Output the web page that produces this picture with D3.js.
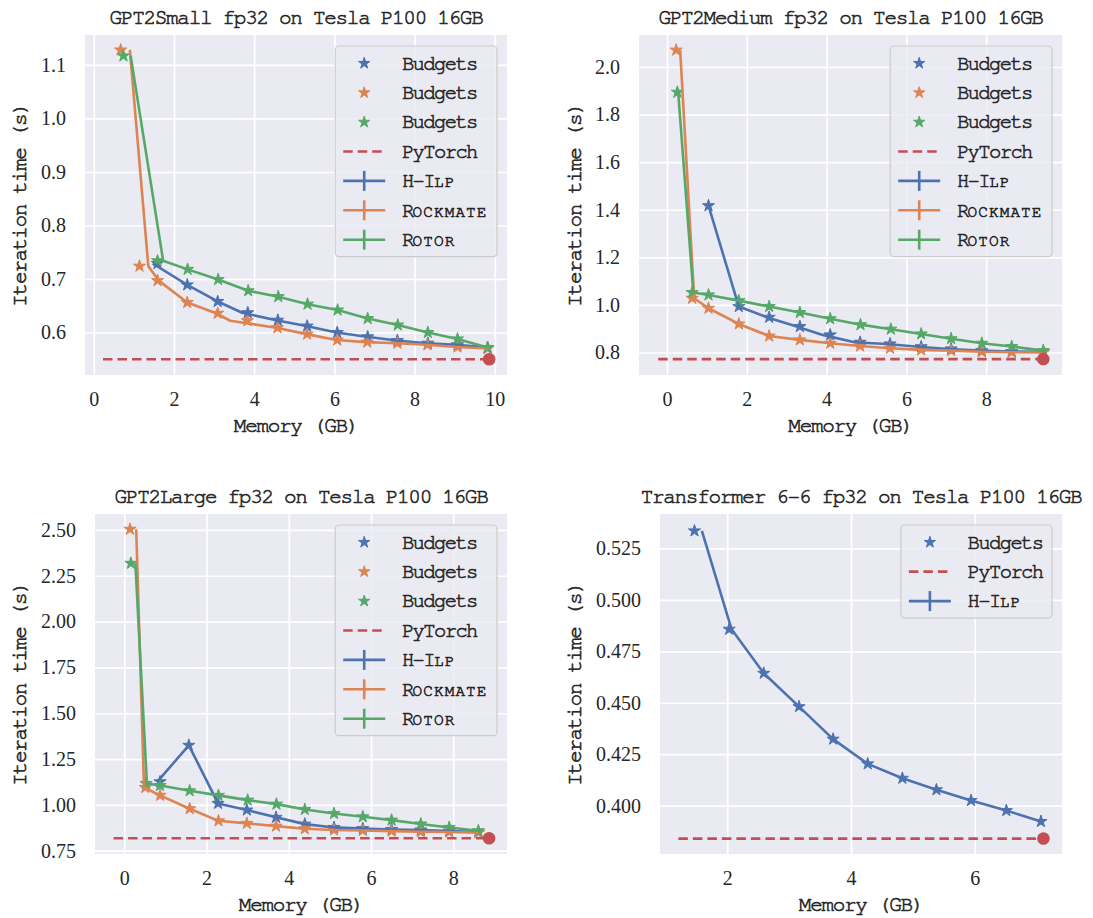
<!DOCTYPE html>
<html>
<head>
<meta charset="utf-8">
<script src="https://cdn.jsdelivr.net/npm/d3@7"></script>
<style>
  body { margin: 0; background: #ffffff; }
  svg { display: block; }
</style>
</head>
<body>
<svg id="fig" width="1093" height="918"></svg>
<script>
// ---------- GPT2Small ----------
const smallHilpBudget   = [1.59, 2.33, 3.09, 3.84, 4.59, 5.32, 6.07, 6.83, 7.57, 8.33, 9.07, 9.82];
const smallHilpMemory   = [1.47, 2.33, 3.09, 3.70, 4.55, 5.30, 6.05, 6.80, 7.55, 8.30, 9.05, 9.82];
const smallHilpTime     = [0.729, 0.689, 0.658, 0.637, 0.623, 0.612, 0.600, 0.592, 0.585, 0.580, 0.577, 0.572];
const smallRockBudget   = [0.67, 1.14, 1.59, 2.33, 3.09, 3.83, 4.58, 5.32, 6.07, 6.82, 7.57, 8.32, 9.07, 9.82];
const smallRockMemory   = [0.90, 1.36, 1.62, 2.33, 3.05, 3.40, 4.55, 5.30, 6.05, 6.80, 7.55, 8.30, 9.05, 9.84];
const smallRockTime     = [1.128, 0.724, 0.697, 0.656, 0.636, 0.622, 0.609, 0.597, 0.586, 0.582, 0.580, 0.577, 0.573, 0.570];
const smallRotorBudget  = [0.74, 1.59, 2.34, 3.10, 3.85, 4.60, 5.33, 6.08, 6.83, 7.58, 8.33, 9.07, 9.82];
const smallRotorMemory  = [0.92, 1.73, 2.34, 3.10, 3.85, 4.60, 5.33, 6.08, 6.83, 7.58, 8.33, 9.07, 9.82];
const smallRotorTime    = [1.117, 0.734, 0.718, 0.699, 0.678, 0.667, 0.653, 0.642, 0.626, 0.614, 0.600, 0.588, 0.572];
const smallTorchSpan    = [0.23, 9.86];
const smallTorchTime    = 0.550;

// ---------- GPT2Medium ----------
const mediumHilpBudget  = [1.04, 1.80, 2.56, 3.33, 4.09, 4.84, 5.59, 6.37, 7.12, 7.89, 8.64, 9.43];
const mediumHilpMemory  = [1.04, 1.80, 2.50, 3.25, 3.90, 4.70, 5.50, 6.30, 7.05, 7.85, 8.60, 9.43];
const mediumHilpTime    = [1.417, 0.993, 0.948, 0.909, 0.874, 0.843, 0.836, 0.824, 0.815, 0.808, 0.804, 0.803];
const mediumRockBudget  = [0.23, 0.63, 1.04, 1.80, 2.56, 3.33, 4.09, 4.84, 5.59, 6.37, 7.12, 7.89, 8.64, 9.43];
const mediumRockMemory  = [0.33, 0.68, 1.04, 1.80, 2.56, 3.33, 4.09, 4.84, 5.59, 6.37, 7.12, 7.89, 8.64, 9.43];
const mediumRockTime    = [2.071, 1.028, 0.986, 0.920, 0.869, 0.853, 0.839, 0.827, 0.818, 0.811, 0.808, 0.803, 0.801, 0.800];
const mediumRotorBudget = [0.26, 0.63, 1.04, 1.80, 2.56, 3.33, 4.09, 4.85, 5.61, 6.37, 7.12, 7.89, 8.64, 9.43];
const mediumRotorMemory = [0.28, 0.66, 1.04, 1.80, 2.56, 3.33, 4.09, 4.85, 5.61, 6.37, 7.12, 7.89, 8.64, 9.43];
const mediumRotorTime   = [1.894, 1.052, 1.042, 1.018, 0.993, 0.968, 0.942, 0.917, 0.898, 0.878, 0.858, 0.839, 0.825, 0.808];
const mediumTorchSpan   = [-0.22, 9.43];
const mediumTorchTime   = 0.772;

// ---------- GPT2Large ----------
const largeHilpBudget   = [0.87, 1.57, 2.28, 2.98, 3.69, 4.39, 5.10, 5.80, 6.50, 7.21, 7.90, 8.61];
const largeHilpMemory   = [0.80, 1.57, 2.28, 2.98, 3.69, 4.39, 5.10, 5.80, 6.50, 7.21, 7.90, 8.61];
const largeHilpTime     = [1.126, 1.325, 1.008, 0.972, 0.932, 0.895, 0.877, 0.871, 0.866, 0.863, 0.857, 0.852];
const largeRockBudget   = [0.14, 0.51, 0.87, 1.59, 2.29, 2.98, 3.69, 4.39, 5.10, 5.80, 6.50, 7.21, 7.90, 8.61];
const largeRockMemory   = [0.29, 0.48, 0.87, 1.59, 2.29, 2.98, 3.69, 4.39, 5.10, 5.80, 6.50, 7.21, 7.90, 8.61];
const largeRockTime     = [2.504, 1.095, 1.052, 0.979, 0.913, 0.899, 0.884, 0.870, 0.863, 0.860, 0.857, 0.853, 0.852, 0.848];
const largeRotorBudget  = [0.16, 0.53, 0.87, 1.59, 2.29, 3.00, 3.70, 4.39, 5.10, 5.80, 6.50, 7.21, 7.90, 8.61];
const largeRotorMemory  = [0.27, 0.55, 0.87, 1.59, 2.29, 3.00, 3.70, 4.39, 5.10, 5.80, 6.50, 7.21, 7.90, 8.61];
const largeRotorTime    = [2.318, 1.117, 1.106, 1.077, 1.052, 1.026, 1.004, 0.975, 0.953, 0.935, 0.917, 0.896, 0.877, 0.859];
const largeTorchSpan    = [-0.26, 8.87];
const largeTorchTime    = 0.818;

// ---------- Transformer 6-6 ----------
const transHilpBudget   = [1.47, 2.03, 2.59, 3.16, 3.71, 4.27, 4.83, 5.38, 5.94, 6.51, 7.07];
const transHilpMemory   = [1.59, 2.07, 2.59, 3.16, 3.71, 4.27, 4.83, 5.38, 5.94, 6.51, 7.07];
const transHilpTime     = [0.5335, 0.4857, 0.4643, 0.4481, 0.4323, 0.4203, 0.4133, 0.4077, 0.4025, 0.3976, 0.3923];
const transTorchSpan    = [1.21, 7.11];
const transTorchTime    = 0.384;

// ---------- tick labels ----------
const smallXTicks  = [0, 2, 4, 6, 8, 10];
const smallYTicks  = [0.6, 0.7, 0.8, 0.9, 1.0, 1.1];
const mediumXTicks = [0, 2, 4, 6, 8];
const mediumYTicks = [0.8, 1.0, 1.2, 1.4, 1.6, 1.8, 2.0];
const largeXTicks  = [0, 2, 4, 6, 8];
const largeYTicks  = [0.75, 1.00, 1.25, 1.50, 1.75, 2.00, 2.25, 2.50];
const transXTicks  = [2, 4, 6];
const transYTicks  = [0.400, 0.425, 0.450, 0.475, 0.500, 0.525];

const methodNames = ["H-Ilp", "Rockmate", "Rotor"];
const colors = { blue: "#4c72b0", orange: "#dd8452", green: "#55a868", red: "#c44e52" };
const textColor = "#262626";
const monoFont = '"FreeMono", "Liberation Mono", monospace';
const serifFont = '"Liberation Serif", "DejaVu Serif", serif';

const svg = d3.select("#fig");

function zipPts(xs, ys) { return xs.map((x, i) => [x, ys[i]]); }

// typewriter text, slightly emboldened, with a fixed character pitch
function mono(sel, size, pitch) {
  return sel.style("font-family", monoFont).attr("font-size", size)
    .style("letter-spacing", (pitch - 0.6 * size) + "px")
    .attr("fill", textColor).attr("stroke", textColor).attr("stroke-width", 0.6);
}

// small-caps label: lowercase runs become reduced capitals keeping the same pitch
function smallCaps(textSel, label, size, pitch) {
  const runs = label.match(/[a-z]+|[^a-z]+/g);
  const k = 0.78;
  runs.forEach(run => {
    const lower = /^[a-z]/.test(run);
    const ts = textSel.append("tspan").text(lower ? run.toUpperCase() : run);
    if (lower) {
      ts.attr("font-size", size * k).style("letter-spacing", (pitch - 0.6 * size * k) + "px");
    }
  });
}

const panels = [
  {
    title: "GPT2Small fp32 on Tesla P100 16GB",
    box: { l: 85, r: 507, t: 35, b: 375 },
    xDomain: [-0.219, 10.304], yDomain: [0.5206, 1.156],
    xTicks: smallXTicks, yTicks: smallYTicks, yFmt: d3.format(".1f"),
    series: [
      { name: methodNames[0], color: colors.blue,   budget: smallHilpBudget,  mem: smallHilpMemory,  time: smallHilpTime },
      { name: methodNames[1], color: colors.orange, budget: smallRockBudget,  mem: smallRockMemory,  time: smallRockTime },
      { name: methodNames[2], color: colors.green,  budget: smallRotorBudget, mem: smallRotorMemory, time: smallRotorTime }
    ],
    torchSpan: smallTorchSpan, torchTime: smallTorchTime
  },
  {
    title: "GPT2Medium fp32 on Tesla P100 16GB",
    box: { l: 639, r: 1062, t: 35, b: 375 },
    xDomain: [-0.702, 9.90], yDomain: [0.7054, 2.1345],
    xTicks: mediumXTicks, yTicks: mediumYTicks, yFmt: d3.format(".1f"),
    series: [
      { name: methodNames[0], color: colors.blue,   budget: mediumHilpBudget,  mem: mediumHilpMemory,  time: mediumHilpTime },
      { name: methodNames[1], color: colors.orange, budget: mediumRockBudget,  mem: mediumRockMemory,  time: mediumRockTime },
      { name: methodNames[2], color: colors.green,  budget: mediumRotorBudget, mem: mediumRotorMemory, time: mediumRotorTime }
    ],
    torchSpan: mediumTorchSpan, torchTime: mediumTorchTime
  },
  {
    title: "GPT2Large fp32 on Tesla P100 16GB",
    box: { l: 95, r: 507, t: 514, b: 854 },
    xDomain: [-0.712, 9.306], yDomain: [0.732, 2.587],
    xTicks: largeXTicks, yTicks: largeYTicks, yFmt: d3.format(".2f"),
    series: [
      { name: methodNames[0], color: colors.blue,   budget: largeHilpBudget,  mem: largeHilpMemory,  time: largeHilpTime },
      { name: methodNames[1], color: colors.orange, budget: largeRockBudget,  mem: largeRockMemory,  time: largeRockTime },
      { name: methodNames[2], color: colors.green,  budget: largeRotorBudget, mem: largeRotorMemory, time: largeRotorTime }
    ],
    torchSpan: largeTorchSpan, torchTime: largeTorchTime
  },
  {
    title: "Transformer 6-6 fp32 on Tesla P100 16GB",
    box: { l: 660, r: 1062, t: 514, b: 854 },
    xDomain: [0.913, 7.41], yDomain: [0.3765, 0.5417],
    xTicks: transXTicks, yTicks: transYTicks, yFmt: d3.format(".3f"),
    series: [
      { name: methodNames[0], color: colors.blue, budget: transHilpBudget, mem: transHilpMemory, time: transHilpTime }
    ],
    torchSpan: transTorchSpan, torchTime: transTorchTime
  }
];

const star = d3.symbol().type(d3.symbolStar);
const labelSize = 21, labelPitch = 11.3;
const legendSize = 20.5, legendPitch = 10.7;

panels.forEach((p, pi) => {
  const { l, r, t, b } = p.box;
  const W = r - l, H = b - t;
  const x = d3.scaleLinear().domain(p.xDomain).range([l, r]);
  const y = d3.scaleLinear().domain(p.yDomain).range([b, t]);
  const g = svg.append("g");

  // plotting area
  g.append("rect").attr("x", l).attr("y", t).attr("width", W).attr("height", H).attr("fill", "#eaeaf2");

  // grid
  const gx = g.append("g").attr("transform", `translate(0,${b})`)
    .call(d3.axisBottom(x).tickValues(p.xTicks).tickSize(-H).tickFormat(""));
  const gy = g.append("g").attr("transform", `translate(${l},0)`)
    .call(d3.axisLeft(y).tickValues(p.yTicks).tickSize(-W).tickFormat(""));
  [gx, gy].forEach(a => {
    a.select(".domain").remove();
    a.selectAll("line").attr("stroke", "#ffffff").attr("stroke-width", 1.7);
  });

  // tick labels
  const lx = g.append("g").attr("transform", `translate(0,${b})`)
    .call(d3.axisBottom(x).tickValues(p.xTicks).tickSize(0).tickPadding(16.3).tickFormat(d3.format("d")));
  const ly = g.append("g").attr("transform", `translate(${l},0)`)
    .call(d3.axisLeft(y).tickValues(p.yTicks).tickSize(0).tickPadding(19).tickFormat(p.yFmt));
  [lx, ly].forEach(a => {
    a.select(".domain").remove();
    a.selectAll("text").style("font-family", serifFont).attr("font-size", 20).attr("fill", textColor);
  });

  // titles and axis labels
  mono(g.append("text"), labelSize, labelPitch).attr("x", (l + r) / 2).attr("y", t - 11)
    .attr("text-anchor", "middle").text(p.title);
  mono(g.append("text"), labelSize, labelPitch).attr("x", (l + r) / 2).attr("y", b + 57)
    .attr("text-anchor", "middle").text("Memory (GB)");
  const ylx = pi % 2 === 0 ? 20 : 575;
  mono(g.append("text"), labelSize, labelPitch).attr("transform", `translate(${ylx + 6},${(t + b) / 2}) rotate(-90)`)
    .attr("text-anchor", "middle").text("Iteration time (s)");

  // data layer, clipped to the plotting area
  const clipId = "clip" + pi;
  svg.append("clipPath").attr("id", clipId).append("rect")
    .attr("x", l).attr("y", t).attr("width", W).attr("height", H);
  const d = g.append("g").attr("clip-path", `url(#${clipId})`);

  // budget stars
  p.series.forEach(s => {
    d.append("g").selectAll("path").data(zipPts(s.budget, s.time)).join("path")
      .attr("d", star.size(46)())
      .attr("transform", v => `translate(${x(v[0])},${y(v[1])})`)
      .attr("fill", s.color).attr("stroke", s.color).attr("stroke-width", 1);
  });

  // PyTorch baseline
  d.append("path")
    .attr("d", d3.line()(p.torchSpan.map(v => [x(v), y(p.torchTime)])))
    .attr("fill", "none").attr("stroke", colors.red).attr("stroke-width", 2.7)
    .attr("stroke-dasharray", "9.5,5");

  // solver curves (measured memory vs time)
  const line = d3.line().x(v => x(v[0])).y(v => y(v[1]));
  p.series.forEach(s => {
    d.append("path").attr("d", line(zipPts(s.mem, s.time)))
      .attr("fill", "none").attr("stroke", s.color).attr("stroke-width", 2.6)
      .attr("stroke-linejoin", "round");
  });

  // PyTorch endpoint
  d.append("circle").attr("cx", x(p.torchSpan[1])).attr("cy", y(p.torchTime)).attr("r", 6.3)
    .attr("fill", colors.red);

  // legend
  const entries = [];
  p.series.forEach(s => entries.push({ kind: "star", color: s.color, label: "Budgets" }));
  entries.push({ kind: "dash", color: colors.red, label: "PyTorch" });
  p.series.forEach(s => entries.push({ kind: "err", color: s.color, label: s.name, caps: true }));

  const rowH = 29.4, padTop = 17.3, boxTop = t + 11;
  const lg = g.append("g");
  const frame = lg.append("rect");
  const texts = [];
  entries.forEach((e, i) => {
    const cy = boxTop + padTop + i * rowH;
    const tx = mono(lg.append("text"), legendSize, legendPitch).attr("y", cy + 6.3);
    if (e.caps) smallCaps(tx, e.label, legendSize, legendPitch); else tx.text(e.label);
    texts.push(tx);
    e.cy = cy;
  });
  const maxW = d3.max(texts, tx => tx.node().getComputedTextLength());
  const boxW = 8 + 42 + 16.7 + maxW + 9.5;
  const boxL = r - 10 - boxW;
  const boxH = padTop + (entries.length - 1) * rowH + 17;
  frame.attr("x", boxL).attr("y", boxTop).attr("width", boxW).attr("height", boxH)
    .attr("rx", 4).attr("fill", "#eaeaf2").attr("fill-opacity", 0.8)
    .attr("stroke", "#cccccc").attr("stroke-width", 1.2);
  const hx0 = boxL + 8, hx1 = boxL + 50, hc = (hx0 + hx1) / 2;
  texts.forEach(tx => tx.attr("x", boxL + 66.7));
  entries.forEach(e => {
    if (e.kind === "star") {
      lg.append("path").attr("d", star.size(40)())
        .attr("transform", `translate(${hc},${e.cy})`).attr("fill", e.color).attr("stroke", e.color);
    } else if (e.kind === "dash") {
      lg.append("line").attr("x1", hx0).attr("x2", hx1).attr("y1", e.cy).attr("y2", e.cy)
        .attr("stroke", e.color).attr("stroke-width", 2.7).attr("stroke-dasharray", "9.5,5");
    } else {
      lg.append("line").attr("x1", hx0).attr("x2", hx1).attr("y1", e.cy).attr("y2", e.cy)
        .attr("stroke", e.color).attr("stroke-width", 2.6);
      lg.append("line").attr("x1", hc).attr("x2", hc).attr("y1", e.cy - 10).attr("y2", e.cy + 10)
        .attr("stroke", e.color).attr("stroke-width", 2.6);
    }
  });
});
</script>
</body>
</html>
